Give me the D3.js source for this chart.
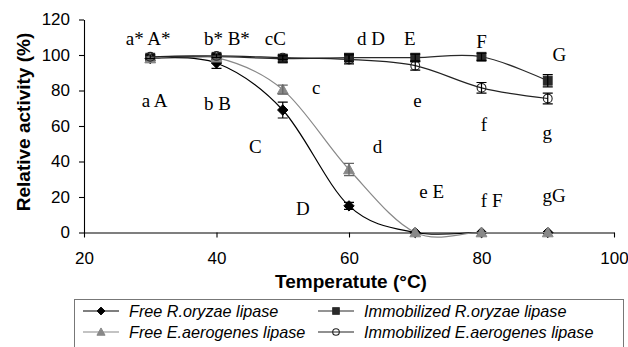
<!DOCTYPE html>
<html>
<head>
<meta charset="utf-8">
<script src="https://cdn.jsdelivr.net/npm/d3@7"></script>
<style>
  html, body { margin: 0; padding: 0; background: #fff; }
  svg { display: block; }
</style>
</head>
<body>
<svg id="chart" width="628" height="347"></svg>
<script>
// Temperatures tested (°C)
const temps = [30, 40, 50, 60, 70, 80, 90];

// Relative activity (%) per enzyme preparation
const freeOryzae = [98, 95.5, 69, 15, 0, 0, 0];
const freeAerogenes = [98, 98.5, 80.5, 35.5, 0, 0, 0];
const immobOryzae = [98.5, 99, 98, 98.5, 98.5, 99, 85.5];
const immobAerogenes = [99, 99.5, 98.5, 97.5, 94, 81.5, 75.5];

// Standard deviations
const freeOryzaeErr = [1, 3, 4.5, 2, 0.5, 0.5, 0.5];
const freeAerogenesErr = [1, 1, 2.5, 3.5, 0.5, 0.5, 0.5];
const immobOryzaeErr = [1.5, 1.5, 2, 2, 2, 2, 3.5];
const immobAerogenesErr = [1, 1, 1, 2.5, 2.5, 3, 3];

const xTicks = [20, 40, 60, 80, 100];
const yTicks = [0, 20, 40, 60, 80, 100, 120];

// Significance letters, anchored in data space: [text, temperature, activity]
const letterLabels = [
  ["a* A*", 26.3, 105.6], ["b* B*", 38.1, 105.6], ["cC", 47.3, 105.6],
  ["a A", 28.7, 70.7], ["b B", 38.1, 69], ["C", 44.9, 45],
  ["c", 54.4, 78], ["d D", 61.2, 105.6], ["E", 68.3, 105.6],
  ["F", 79.2, 104.1], ["G", 90.7, 96.6], ["e", 69.7, 70.9],
  ["f", 79.9, 57.2], ["g", 89.2, 52.7], ["d", 63.6, 45],
  ["D", 52, 9.9], ["e E", 70.6, 19.3], ["f F", 79.9, 14.5], ["gG", 89.2, 17.4]
];

const svg = d3.select("#chart");
const x = d3.scaleLinear().domain([20, 100]).range([84, 614]);
const y = d3.scaleLinear().domain([0, 120]).range([232.5, 19.5]);

// Axes
const xAxis = svg.append("g")
  .attr("transform", `translate(0,${y(0)})`)
  .call(d3.axisBottom(x).tickValues(xTicks).tickSize(5).tickSizeOuter(0).tickPadding(14));
const yAxis = svg.append("g")
  .attr("transform", `translate(${x(20)},0)`)
  .call(d3.axisLeft(y).tickValues(yTicks).tickSize(5).tickSizeOuter(0).tickPadding(9));
[xAxis, yAxis].forEach(g => {
  g.selectAll("path,line").attr("stroke", "#000").attr("stroke-width", 1.1);
  g.selectAll("text").attr("font-family", "Liberation Sans, Arial, sans-serif")
    .attr("font-size", 17).attr("fill", "#000");
});

// Axis titles
svg.append("text")
  .attr("x", 351).attr("y", 288)
  .attr("text-anchor", "middle")
  .attr("font-family", "Liberation Sans, Arial, sans-serif")
  .attr("font-weight", "bold").attr("font-size", 19)
  .text("Temperatute (°C)");
svg.append("text")
  .attr("transform", "translate(30,122) rotate(-90)")
  .attr("text-anchor", "middle")
  .attr("font-family", "Liberation Sans, Arial, sans-serif")
  .attr("font-weight", "bold").attr("font-size", 19)
  .text("Relative activity (%)");

// Series definitions
const series = [
  { name: "Free R.oryzae lipase", values: freeOryzae, err: freeOryzaeErr, color: "#000", marker: "diamond", fill: "#000" },
  { name: "Immobilized R.oryzae lipase", values: immobOryzae, err: immobOryzaeErr, color: "#2a2a2a", marker: "square", fill: "#2a2a2a" },
  { name: "Free E.aerogenes lipase", values: freeAerogenes, err: freeAerogenesErr, color: "#888", marker: "triangle", fill: "#888" },
  { name: "Immobilized E.aerogenes lipase", values: immobAerogenes, err: immobAerogenesErr, color: "#222", marker: "circle", fill: "none" }
];

const line = d3.line()
  .x(d => x(d[0])).y(d => y(d[1]))
  .curve(d3.curveCatmullRom.alpha(0));

function drawMarker(g, type, cx, cy, color, fill, scale = 1) {
  if (type === "diamond") {
    const s = 5.2 * scale;
    g.append("path").attr("d", `M${cx},${cy - s}L${cx + s},${cy}L${cx},${cy + s}L${cx - s},${cy}Z`)
      .attr("fill", fill).attr("stroke", color);
  } else if (type === "square") {
    const s = 4.4 * scale;
    g.append("rect").attr("x", cx - s).attr("y", cy - s).attr("width", 2 * s).attr("height", 2 * s)
      .attr("fill", fill).attr("stroke", color);
  } else if (type === "triangle") {
    const s = 5.4 * scale;
    g.append("path").attr("d", `M${cx},${cy - s}L${cx + s},${cy + s * 0.8}L${cx - s},${cy + s * 0.8}Z`)
      .attr("fill", fill).attr("stroke", fill);
  } else {
    g.append("circle").attr("cx", cx).attr("cy", cy).attr("r", 4.4 * scale)
      .attr("fill", fill).attr("stroke", color).attr("stroke-width", 1.1);
  }
}

const plot = svg.append("g");
series.forEach(s => {
  const pts = temps.map((t, i) => [t, s.values[i]]);
  const g = plot.append("g");
  g.append("path").datum(pts).attr("d", line)
    .attr("fill", "none").attr("stroke", s.color).attr("stroke-width", 1.2);
  pts.forEach(([t, v], i) => {
    drawMarker(g, s.marker, x(t), y(v), s.color, s.fill);
    const e = s.err[i];
    if (e > 0.6) {
      const x0 = x(t), y1 = y(v + e), y2 = y(v - e);
      g.append("path")
        .attr("d", `M${x0},${y1}V${y2}M${x0 - 5},${y1}H${x0 + 5}M${x0 - 5},${y2}H${x0 + 5}`)
        .attr("stroke", s.color === "#888" ? "#666" : "#000").attr("stroke-width", 1.2).attr("fill", "none");
    }
  });
});

// Significance letters
svg.append("g").selectAll("text").data(letterLabels).join("text")
  .attr("x", d => x(d[1]))
  .attr("y", d => y(d[2]))
  .attr("font-family", "Liberation Serif, Times New Roman, serif")
  .attr("font-size", 19).attr("fill", "#000")
  .text(d => d[0]);

// Legend
const legend = svg.append("g");
legend.append("rect").attr("x", 74.5).attr("y", 299.5).attr("width", 549).attr("height", 60)
  .attr("fill", "#fff").attr("stroke", "#777").attr("stroke-width", 1);
const legendPos = [[83, 311], [318, 311], [83, 332], [318, 332]];
series.forEach((s, k) => {
  const [lx, ly] = legendPos[k];
  legend.append("line").attr("x1", lx).attr("x2", lx + 36).attr("y1", ly).attr("y2", ly)
    .attr("stroke", s.color).attr("stroke-width", 1.2);
  drawMarker(legend, s.marker, lx + 18, ly, s.color, s.fill, 0.75);
  legend.append("text").attr("x", lx + 46).attr("y", ly + 5.5)
    .attr("font-family", "Liberation Sans, Arial, sans-serif")
    .attr("font-style", "italic").attr("font-size", 16.2).attr("fill", "#000")
    .text(s.name);
});
</script>
</body>
</html>
